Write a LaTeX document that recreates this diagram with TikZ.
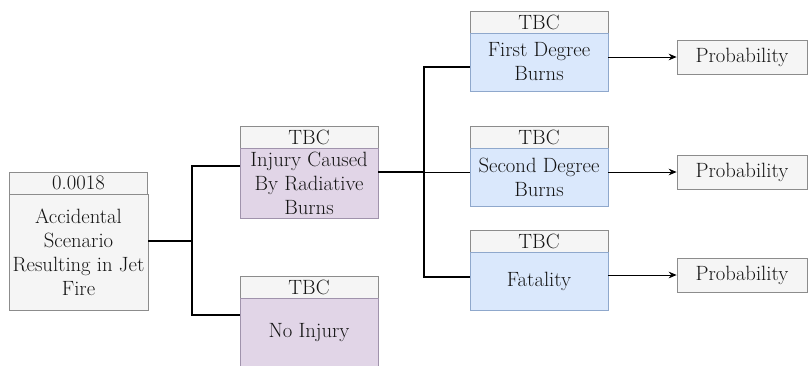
\documentclass[tikz,border=0pt]{standalone}
\usetikzlibrary{arrows.meta}
\definecolor{hdrfill}{HTML}{F5F5F5}
\definecolor{hdrline}{HTML}{8C8C8C}
\definecolor{purfill}{HTML}{E1D5E7}
\definecolor{purline}{HTML}{A093AC}
\definecolor{blufill}{HTML}{DAE8FC}
\definecolor{bluline}{HTML}{8FA8CC}
\definecolor{txt}{HTML}{141414}

\begin{document}
\begin{tikzpicture}[x=0.75pt,y=0.75pt,yscale=-1,xscale=1,
  box/.style={draw=hdrline, line width=0.6pt, text=txt, align=center, inner sep=0pt,
    minimum width=103.5pt, font=\fontsize{15.5}{18}\selectfont},
  hdr/.style={box, fill=hdrfill, minimum height=16.5pt},
  greybody/.style={box, fill=hdrfill},
  purbody/.style={box, fill=purfill, draw=purline, minimum height=52.5pt},
  blubody/.style={box, fill=blufill, draw=bluline, minimum height=43.5pt},
  probbox/.style={box, fill=hdrfill, minimum width=97.5pt, minimum height=25.5pt},
  link/.style={line width=1.5pt, black},
  thinlink/.style={line width=0.6pt, black},
  arr/.style={line width=0.6pt, black, -{Stealth[length=6pt,width=5pt,inset=2pt]}}
]
\useasboundingbox (0,0) rectangle (810,365);

% scenario
\node[hdr] (acch) at (78.5,183) {0.0018};
\node[greybody, minimum width=104.25pt, minimum height=87pt] (accb) at (78.5,252)
  {Accidental\\Scenario\\Resulting in Jet\\Fire};

% injury / no injury
\node[hdr] (injh) at (309,137) {TBC};
\node[purbody] (injb) at (309,183) {Injury Caused\\By Radiative\\Burns};
\node[hdr] (noh) at (309,287) {TBC};
\node[purbody] (nob) at (309,333) {No Injury};

% burn outcomes
\node[hdr] (fsth) at (539,22) {TBC};
\node[blubody] (fstb) at (539,62) {First Degree\\Burns};
\node[hdr] (sndh) at (539,137) {TBC};
\node[blubody] (sndb) at (539,177) {Second Degree\\Burns};
\node[hdr] (fath) at (539,241) {TBC};
\node[blubody] (fatb) at (539,281) {Fatality};

% probabilities
\node[probbox] (p1) at (742,57) {Probability};
\node[probbox] (p2) at (742,172) {Probability};
\node[probbox] (p3) at (742,275) {Probability};

% junctions
\coordinate (j0) at (192,241);
\coordinate (ji) at (192,166);
\coordinate (jn) at (192,315);
\coordinate (k1) at (424,67);
\coordinate (k2) at (424,172);
\coordinate (k3) at (424,277);

\draw[link] (j0 -| accb.east) -- (j0);
\draw[link] (ji -| injb.west) -- (ji) -- (jn) -- (jn -| nob.west);
\draw[link] (k2 -| injb.east) -- (k2);
\draw[link] (k1 -| fstb.west) -- (k1) -- (k3) -- (k3 -| fatb.west);
\draw[thinlink] (k2) -- (k2 -| sndb.west);

\draw[arr] (p1.west -| fstb.east) -- (p1.west);
\draw[arr] (p2.west -| sndb.east) -- (p2.west);
\draw[arr] (p3.west -| fatb.east) -- (p3.west);

\end{tikzpicture}
\end{document}
